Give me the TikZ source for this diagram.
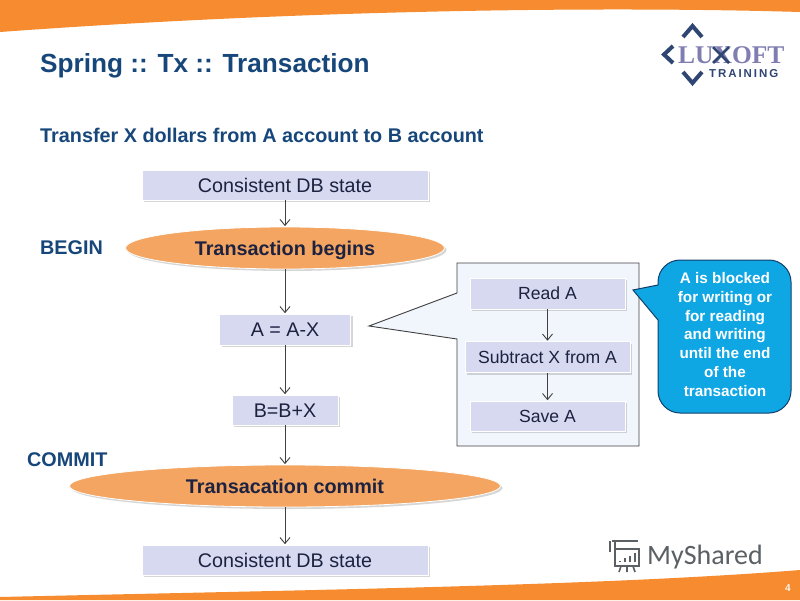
\documentclass[tikz,border=0pt]{standalone}
\usepackage{fontspec}
\setmainfont{Liberation Sans}
\newfontfamily\logofont{Liberation Serif}
\newfontfamily\wmfont{Carlito}
\usetikzlibrary{shapes.geometric,arrows.meta,shadows}
\definecolor{bandorange}{HTML}{F68B2F}
\definecolor{boxfill}{HTML}{D6D9F0}
\definecolor{ellfill}{HTML}{F3A561}
\definecolor{titleblue}{HTML}{17477A}
\definecolor{bodyink}{HTML}{1D2240}
\definecolor{calloutblue}{HTML}{0FA6E4}
\definecolor{calloutedge}{HTML}{123F6B}
\definecolor{panefill}{HTML}{F1F5FC}
\definecolor{logoblue}{HTML}{2F4672}
\definecolor{logopurple}{HTML}{7F7DB2}
\definecolor{wmgrey}{HTML}{5A6064}
\tikzset{
  softshadow/.style={general shadow={shadow xshift=2pt,shadow yshift=-2pt,fill=black!40,opacity=.4}},
  flowbox/.style={rectangle,fill=boxfill,draw=white,line width=.6pt,softshadow,inner sep=0pt,font=\fontsize{19.7}{22}\selectfont,text=bodyink,text height=14pt,text depth=0pt},
  smallbox/.style={flowbox,font=\fontsize{17.6}{20}\selectfont,text height=12.5pt},
  flowell/.style={ellipse,fill=ellfill,draw=white,line width=.8pt,softshadow,inner sep=0pt,font=\bfseries\fontsize{19.8}{22}\selectfont,text=bodyink,text height=14pt,text depth=0pt},
  flowarrow/.style={draw=black!75,line width=.9pt,-{Straight Barb[length=6pt,width=10pt]},shorten >=.5pt},
  heading/.style={anchor=base west,inner sep=0pt,text=titleblue,font=\bfseries\fontsize{19.8}{22}\selectfont},
}
\begin{document}
\begin{tikzpicture}[x=1pt,y=-1pt]
\useasboundingbox (0,0) rectangle (800,600);
\fill[white] (0,0) rectangle (800,600);
% bands
\fill[bandorange] (0,0) -- (800,0) -- (800,12) .. controls (600,6) and (300,10) .. (0,32) -- cycle;
\fill[bandorange] (0,600) -- (800,600) -- (800,570) .. controls (600,586) and (300,590) .. (0,597) -- cycle;
\node[anchor=center,inner sep=0pt,text=white!90!bandorange,font=\bfseries\fontsize{10}{12}\selectfont] (pagenum) at (788,588) {4};
% title
\node[anchor=base west,inner sep=0pt,text=titleblue,font=\bfseries\fontsize{26.2}{28}\selectfont] (title) at (40,72) {Spring :: Tx :: Transaction};
\node[heading] (subtitle) at (40,142) {Transfer X dollars from A account to B account};
\node[heading] (begin) at (40,254) {BEGIN};
\node[heading] (commit) at (27,466) {COMMIT};
% logo
\draw[logoblue,line width=4pt] (683,37) -- (692.5,26) -- (702,37);
\draw[logoblue,line width=4pt] (683,72) -- (692.5,83) -- (702,72);
\draw[logoblue,line width=4pt] (673,46) -- (664,54.5) -- (673,63);
\node[anchor=base west,inner sep=0pt,text=logopurple,font=\logofont\bfseries\fontsize{25.5}{27}\selectfont] (logo) at (678,63) {LUXOFT};
\draw[logoblue,line width=2.6pt] (713,47) -- (729,63) (729,47) -- (713,63);
\node[anchor=base west,inner sep=0pt,text=logoblue,font=\bfseries\fontsize{11.5}{12}\selectfont] (logosub) at (709,77) {T\,R\,A\,I\,N\,I\,N\,G};
% main flow
\node[flowbox,minimum width=286pt,minimum height=30pt] (c1) at (285,185) {Consistent DB state};
\node[flowell,minimum width=319pt,minimum height=42pt] (e1) at (285,248) {Transaction begins};
\node[flowbox,minimum width=131pt,minimum height=31pt] (a) at (285,329.5) {A = A-X};
\node[flowbox,minimum width=106pt,minimum height=30pt] (b) at (285,410) {B=B+X};
\node[flowell,minimum width=431pt,minimum height=42pt] (e2) at (285,486) {Transacation commit};
\node[flowbox,minimum width=286pt,minimum height=30pt] (c2) at (285,560) {Consistent DB state};
\draw[flowarrow] (c1) -- (e1);
\draw[flowarrow] (e1) -- (a);
\draw[flowarrow] (a) -- (b);
\draw[flowarrow] (b) -- (e2);
\draw[flowarrow] (e2) -- (c2);
% pane with pointer
\draw[draw=black!75,fill=panefill,line width=.9pt] (457,263) -- (639,263) -- (639,446) -- (457,446) -- (457,339) -- (369,326) -- (457,293) -- cycle;
\node[smallbox,minimum width=155pt,minimum height=31pt] (read) at (547.5,293.5) {Read A};
\node[smallbox,minimum width=165pt,minimum height=31pt] (sub) at (547.5,357) {Subtract X from A};
\node[smallbox,minimum width=155pt,minimum height=30pt] (save) at (547.5,416) {Save A};
\draw[flowarrow] (read) -- (sub);
\draw[flowarrow] (sub) -- (save);
% callout
\draw[fill=calloutblue,draw=calloutedge,line width=1pt]
  (680,260) -- (769,260) .. controls (781,260) and (791,270) .. (791,282)
  -- (791,391) .. controls (791,403) and (781,413) .. (769,413)
  -- (680,413) .. controls (668,413) and (658,403) .. (658,391)
  -- (658,320) -- (633,290) -- (658,285) -- (658,282) .. controls (658,270) and (668,260) .. (680,260) -- cycle;
\node[align=center,inner sep=0pt,text=white,font=\bfseries\fontsize{15.3}{18.75}\selectfont] (note) at (725,334.5) {A is blocked\\for writing or\\for reading\\and writing\\until the end\\of the\\transaction};
% watermark
\node[anchor=base west,inner sep=0pt,text=wmgrey,font=\wmfont\fontsize{28}{30}\selectfont] (wm) at (647,564) {MyShared};
\begin{scope}[draw=wmgrey,line width=1.6pt]
\draw (612,541) -- (638,541) (610,541) -- (610,552) (615,549) -- (639,549) -- (639,566) -- (615,566) -- cycle;
\draw (615,541) -- (615,566) (621,566) -- (619,572) (627,566) -- (627,572) (633,566) -- (635,572);
\draw (620,562) -- (620,561) (625,562) -- (625,558) (630,562) -- (630,556) (635,562) -- (635,553);
\end{scope}
\end{tikzpicture}
\end{document}
